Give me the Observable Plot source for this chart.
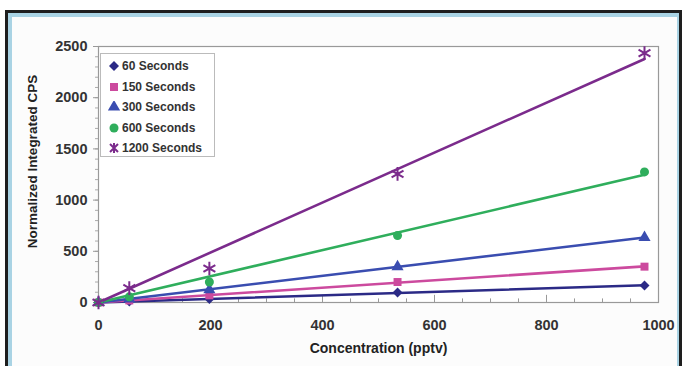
<!DOCTYPE html>
<html><head><meta charset="utf-8">
<script src="https://cdn.jsdelivr.net/npm/d3@7"></script>
<script src="https://cdn.jsdelivr.net/npm/@observablehq/plot@0.6"></script>
<style>
html,body{margin:0;padding:0;background:#fff;}
#wrap{position:relative;width:682px;height:366px;overflow:hidden;font-family:"Liberation Sans",Arial,sans-serif;}
#frame{position:absolute;left:5px;top:10px;width:677px;height:400px;border:3px solid #1e1e1e;box-sizing:border-box;}
#inner{position:absolute;left:0;top:0;right:0;bottom:0;border:4px solid #a9d3e4;border-right-width:2px;background:#fcfcfc;}
#plotbg{position:absolute;left:98px;top:46px;width:560px;height:256px;background:#fff;}
#chart{position:absolute;left:0;top:0;}
#legend{position:absolute;left:100px;top:53px;width:115px;height:104px;border:1px solid #bbb;background:#fff;box-sizing:border-box;padding:2px 0 0 7px;font-size:12px;font-weight:bold;color:#333;}
#legend div{height:20.5px;display:flex;align-items:center;}
#legend svg{margin-right:2px;}
</style></head>
<body>
<div id="wrap"><div id="frame"><div id="inner"></div></div><div id="plotbg"></div><div id="chart"></div><div id="legend"></div></div>
<script>
const concentration = [0, 55, 198, 534, 975];
const s60   = [0, 10, 35, 98, 166];
const s150  = [0, 20, 70, 200, 350];
const s300  = [0, 35, 125, 350, 635];
const s600  = [0, 55, 200, 654, 1275];
const s1200 = [0, 140, 332, 1255, 2435];
const seriesNames = ["60 Seconds", "150 Seconds", "300 Seconds", "600 Seconds", "1200 Seconds"];
const seriesColors = ["#2b2a86", "#cc4a9e", "#3a4db0", "#2fae5c", "#7b2b8c"];
const seriesSymbols = ["diamond2", "square", "triangle", "circle", "asterisk"];
const xTicks = [0, 200, 400, 600, 800, 1000];
const yTicks = [0, 500, 1000, 1500, 2000, 2500];

const allSeries = [s60, s150, s300, s600, s1200];
const data = [];
allSeries.forEach((vals, i) => vals.forEach((v, j) => data.push({x: concentration[j], y: v, s: seriesNames[i]})));

// least-squares trend lines through the origin, spanning the data's x extent
const xExtent = d3.extent(concentration);
const sxx = d3.sum(concentration, x => x * x);
const fits = [];
allSeries.forEach((vals, i) => {
  const slope = d3.sum(vals, (v, j) => v * concentration[j]) / sxx;
  xExtent.forEach(x => fits.push({x, y: slope * x, s: seriesNames[i]}));
});

const chart = Plot.plot({
  width: 682, height: 366,
  marginLeft: 98, marginRight: 24, marginTop: 46, marginBottom: 64,
  style: {background: "transparent", fontFamily: "Liberation Sans, Arial, sans-serif"},
  x: {domain: [0, 1000]},
  y: {domain: [0, 2500]},
  color: {domain: seriesNames, range: seriesColors},
  symbol: {domain: seriesNames, range: seriesSymbols},
  marks: [
    Plot.ruleX(d3.range(0, 1001, 50), {x: d => d, y1: 0, y2: d => d % 200 === 0 ? 70 : 35, stroke: "#999", strokeWidth: 1}),
    Plot.axisY({ticks: d3.range(0, 2501, 100), tickSize: 3, text: null, stroke: "#aaa", label: null}),
    Plot.frame({stroke: "#999", strokeWidth: 1.2}),
    Plot.axisY({ticks: yTicks, tickFormat: "d", tickSize: 5, tickPadding: 6, fontSize: 14.5, fontWeight: "bold", fill: "#333", stroke: "#999", label: null}),
    Plot.axisX({ticks: xTicks, tickFormat: "d", tickSize: 0, tickPadding: 17, fontSize: 14.5, fontWeight: "bold", fill: "#333", label: null}),
    Plot.text(["Normalized Integrated CPS"], {frameAnchor: "left", textAnchor: "middle", rotate: -90, dx: -66, dy: -13, text: d => d, fontSize: 13.5, fontWeight: "bold", fill: "#222"}),
    Plot.text(["Concentration (pptv)"], {frameAnchor: "bottom", dy: 50, text: d => d, fontSize: 14, fontWeight: "bold", fill: "#222"}),
    Plot.line(fits, {x: "x", y: "y", z: "s", stroke: "s", strokeWidth: 2.6}),
    Plot.dot(data.filter(d => d.s !== "1200 Seconds"), {x: "x", y: "y", symbol: "s", fill: "s", stroke: "none", r: 4.5}),
    Plot.dot(data.filter(d => d.s === "1200 Seconds"), {x: "x", y: "y", symbol: "s", stroke: "s", r: 6.5, strokeWidth: 2})
  ]
});
document.getElementById("chart").appendChild(chart);

const symbolMap = {diamond2: d3.symbolDiamond2, square: d3.symbolSquare, triangle: d3.symbolTriangle, circle: d3.symbolCircle};
const leg = document.getElementById("legend");
seriesNames.forEach((name, i) => {
  const row = document.createElement("div");
  const path = seriesSymbols[i] === "asterisk"
    ? `<path d="M-4,-4L4,4M-4,4L4,-4M0,-5L0,5" stroke="${seriesColors[i]}" stroke-width="2" fill="none"/>`
    : `<path d="${d3.symbol(symbolMap[seriesSymbols[i]], 64)()}" fill="${seriesColors[i]}"/>`;
  row.innerHTML = `<svg width="12" height="12" viewBox="-6 -6 12 12">${path}</svg><span>${name}</span>`;
  leg.appendChild(row);
});
</script>
</body></html>
